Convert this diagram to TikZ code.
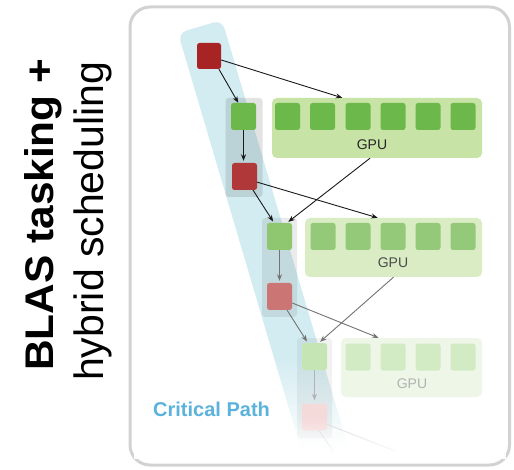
\documentclass[tikz,border=0pt]{standalone}
\usepackage{fontspec}
\setmainfont{Liberation Sans}
\usetikzlibrary{arrows.meta,fadings,calc}

\definecolor{frameline}{HTML}{D2D2D2}
\definecolor{cpband}{HTML}{D3ECF1}
\definecolor{cptext}{HTML}{5BB2DD}
\definecolor{redA}{HTML}{A82323}
\definecolor{redB}{HTML}{B03838}
\definecolor{redC}{HTML}{CB7575}
\definecolor{redD}{HTML}{F5DADA}
\definecolor{greenA}{HTML}{6DB84B}
\definecolor{greenB}{HTML}{8FC770}
\definecolor{greenC}{HTML}{C6E5B4}
\definecolor{panelA}{HTML}{C7E3A5}
\definecolor{panelB}{HTML}{D9ECC4}
\definecolor{panelC}{HTML}{EEF7E7}
\definecolor{cellA}{HTML}{6DB84B}
\definecolor{cellB}{HTML}{94C97A}
\definecolor{cellC}{HTML}{D2EBC5}

% band fades to white towards its lower end
\pgfdeclareverticalshading{bandfade}{100bp}{color(0bp)=(white); color(26.5bp)=(white); color(37bp)=(cpband); color(100bp)=(cpband)}
\tikzfading[name=fadedown, top color=transparent!100, bottom color=transparent!0]

\tikzset{
  task/.style={rectangle, rounded corners=2.5pt, minimum width=25pt, minimum height=27pt, inner sep=0pt},
  cell/.style={task},
  panel/.style={rectangle, rounded corners=5pt, inner sep=0pt},
  column/.style={rectangle, rounded corners=3pt, inner sep=0pt, fill=black},
  gpulabel/.style={font=\fontsize{14}{14}\selectfont, inner sep=0pt},
  dep/.style={-{Stealth[length=6.5pt,width=5pt]}, line width=0.9pt},
}

\begin{document}
\begin{tikzpicture}[x=1pt,y=-1pt]
\useasboundingbox (0,0) rectangle (514,470);

% outer frame
\draw[frameline, line width=3pt, rounded corners=20pt, fill=white] (130,7) rectangle (509.5,465);

% critical path band
\path[shading=bandfade, rounded corners=9pt]
  (178,33) -- (222,20) -- (349.4,451.2) -- (305.4,464.2) -- cycle;

% processor columns
\node[column, opacity=0.11, minimum width=37pt, minimum height=99pt] (col1) at (244,147.5) {};
\node[column, opacity=0.08, minimum width=35pt, minimum height=99pt] (col2) at (279.5,267.5) {};
\node[column, opacity=0.05, minimum width=35pt, minimum height=100pt] (col3) at (314.5,388) {};

% GPU panels
\node[panel, fill=panelA, minimum width=210pt, minimum height=60pt] (p1) at (377,128) {};
\node[panel, fill=panelB, minimum width=177pt, minimum height=59pt] (p2) at (393.5,247.5) {};
\node[panel, fill=panelC, minimum width=141pt, minimum height=59pt] (p3) at (411.5,367.5) {};

\foreach \i/\x in {1/287.5,2/322.5,3/358,4/393,5/428,6/463}
  \node[cell, fill=cellA] (p1c\i) at (\x,116.5) {};
\foreach \i/\x in {1/323,2/358,3/393,4/428,5/463}
  \node[cell, fill=cellB] (p2c\i) at (\x,236.5) {};
\foreach \i/\x in {1/358,2/393,3/428,4/463}
  \node[cell, fill=cellC] (p3c\i) at (\x,357) {};

\node[gpulabel, text=black!85] (l1) at (372,145) {GPU};
\node[gpulabel, text=black!70] (l2) at (393,263) {GPU};
\node[gpulabel, text=black!30] (l3) at (412,384) {GPU};

% tasks on the critical path
\node[task, fill=redA, minimum width=24pt, minimum height=26pt] (r1) at (209,56) {};
\node[task, fill=greenA] (g1) at (243.5,116.5) {};
\node[task, fill=redB] (r2) at (244.5,176.5) {};
\node[task, fill=greenB] (g2) at (279.5,236.5) {};
\node[task, fill=redC] (r3) at (279.5,296.5) {};
\node[task, fill=greenC] (g3) at (314.5,356.5) {};
\node[task, fill=redD] (r4) at (314.5,417) {};

% dependencies
\begin{scope}[black!90]
  \draw[dep] (r1.-53) -- (g1.111);
  \draw[dep] (r1.-18) -- (p1.139);
  \draw[dep, shorten >=2pt] (g1.south) -- (g1.south |- r2.north);
  \draw[dep] (r2.-24) -- (p2.118);
  \draw[dep, shorten >=1.5pt] (r2.-58) -- (g2.112);
  \draw[dep, shorten >=1.5pt] (p1.-103) -- (g2.61);
\end{scope}
\begin{scope}[black!55]
  \draw[dep, shorten >=2pt] (g2.south) -- (g2.south |- r3.north);
  \draw[dep] (r3.-27) -- (p3.138);
  \draw[dep, shorten >=1.5pt] (r3.-61) -- (g3.116);
  \draw[dep, shorten >=1.5pt] (p2.south) -- (g3.72);
\end{scope}
\begin{scope}[black!30]
  \draw[dep, shorten >=3pt] (g3.south) -- (g3.south |- r4.north);
\end{scope}
\coordinate (e1) at (395,451);
\coordinate (e2) at (334,452);
\draw[black!15, line width=0.9pt] (r4.-30) -- (e1);
\draw[black!15, line width=0.9pt] (r4.-72) -- (e2);

% fade the lower end of the schedule
\fill[white, path fading=fadedown] (134,418) rectangle (506,459);

\node[anchor=base west, inner sep=0pt, text=cptext, font=\bfseries\fontsize{20}{20}\selectfont] (cp) at (153,416) {Critical Path};

% title
\node[anchor=base west, rotate=90, inner sep=0pt, font=\bfseries\fontsize{40}{40}\selectfont] (t1) at (53,371) {\scalebox{1.06}[1]{BLAS tasking +}};
\node[anchor=base west, rotate=90, inner sep=0pt, font=\fontsize{41}{41}\selectfont] (t2) at (103,381) {hybrid scheduling};
\end{tikzpicture}
\end{document}
